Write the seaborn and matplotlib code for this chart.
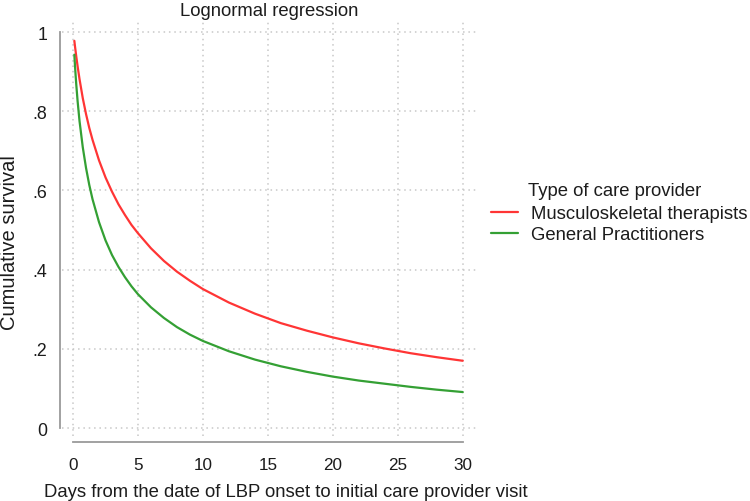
import matplotlib
matplotlib.use("Agg")
import matplotlib.pyplot as plt
import seaborn as sns
import pandas as pd

# ---- data ----
days = [0.1, 0.15, 0.2, 0.25, 0.35, 0.5, 0.75, 1, 1.25, 1.5, 2, 2.5, 3, 3.5, 4,
        4.5, 5, 6, 7, 8, 9, 10, 12, 14, 16, 18, 20, 22, 24, 26, 28, 30]
msk_therapists = [0.978, 0.964, 0.951, 0.938, 0.914, 0.881, 0.833, 0.793, 0.758,
                  0.728, 0.676, 0.633, 0.597, 0.565, 0.538, 0.513, 0.492, 0.454,
                  0.422, 0.395, 0.372, 0.351, 0.317, 0.289, 0.265, 0.246, 0.229,
                  0.214, 0.201, 0.189, 0.179, 0.170]
general_pract = [0.943, 0.915, 0.890, 0.867, 0.826, 0.775, 0.709, 0.657, 0.614,
                 0.578, 0.520, 0.474, 0.437, 0.407, 0.381, 0.358, 0.338, 0.305,
                 0.278, 0.255, 0.236, 0.220, 0.194, 0.173, 0.156, 0.142, 0.130,
                 0.120, 0.112, 0.104, 0.097, 0.091]
providers = ["Musculoskeletal therapists", "General Practitioners"]
x_ticks = [0, 5, 10, 15, 20, 25, 30]
y_ticks = [0, 0.2, 0.4, 0.6, 0.8, 1.0]
y_tick_labels = ["0", ".2", ".4", ".6", ".8", "1"]

title = "Lognormal regression"
x_label = "Days from the date of LBP onset to initial care provider visit"
y_label = "Cumulative survival"
legend_title = "Type of care provider"

df = pd.concat([
    pd.DataFrame({"days": days, "surv": msk_therapists, "provider": providers[0]}),
    pd.DataFrame({"days": days, "surv": general_pract, "provider": providers[1]}),
])

# ---- style ----
sns.set_style("white")
plt.rcParams["font.family"] = ["Liberation Sans", "DejaVu Sans"]
txt = "#1c1c1c"
fs = 13.3

fig = plt.figure(figsize=(7.5, 5.02), dpi=100)
W, H = 750, 502
ax = fig.add_axes([62 / W, 1 - 437 / H, 415 / W, 415 / H])

palette = {providers[0]: "#ff3535", providers[1]: "#34a034"}
sns.lineplot(data=df, x="days", y="surv", hue="provider", hue_order=providers,
             palette=palette, linewidth=1.6, ax=ax, legend=True)

ax.set_xlim(-0.85, 31.1)
ax.set_ylim(-0.02, 1.028)
ax.set_xticks(x_ticks)
ax.set_xticklabels([str(t) for t in x_ticks])
ax.set_yticks(y_ticks)
ax.set_yticklabels(y_tick_labels)
ax.set_xlabel("")
ax.set_ylabel("")

ax.grid(True, color="#c8c8c8", linestyle=(0, (1, 2.5)), linewidth=1.1)
for s in ["top", "right"]:
    ax.spines[s].set_visible(False)
for s in ["left", "bottom"]:
    ax.spines[s].set_color("#9a9a9a")
    ax.spines[s].set_linewidth(1.3)
ax.spines["left"].set_bounds(0, 1)
ax.spines["left"].set_position(("outward", 1.5))
ax.spines["bottom"].set_bounds(0, 30)
ax.spines["bottom"].set_position(("outward", 4))
ax.tick_params(axis="y", direction="out", length=6, width=1.3, color="#9a9a9a",
               labelsize=12.8, labelcolor=txt, pad=3)
ax.tick_params(axis="x", direction="out", length=4, width=1.3, color="#9a9a9a",
               labelsize=12.3, labelcolor=txt, pad=7)

# legend
handles, labels = ax.get_legend_handles_labels()
ax.get_legend().remove()
fig.legend(handles, labels, loc="upper left",
           bbox_to_anchor=(491 / W, 1 - 206 / H), frameon=False,
           fontsize=fs, handlelength=1.45, handletextpad=0.7,
           labelspacing=0.22, borderpad=0, borderaxespad=0,
           labelcolor=txt)
fig.text(528 / W, 1 - 192 / H, legend_title, fontsize=fs, color=txt,
         ha="left", va="center")

# titles
fig.text(269 / W, 1 - 15.5 / H, title, fontsize=fs, color=txt,
         ha="center", va="baseline")
fig.text(286 / W, 1 - 497 / H, x_label, fontsize=fs, color=txt,
         ha="center", va="baseline")
fig.text(10 / W, 1 - 243 / H, y_label, fontsize=14.5, color=txt,
         ha="center", va="center", rotation=90)

fig.savefig("out.png", dpi=100)
